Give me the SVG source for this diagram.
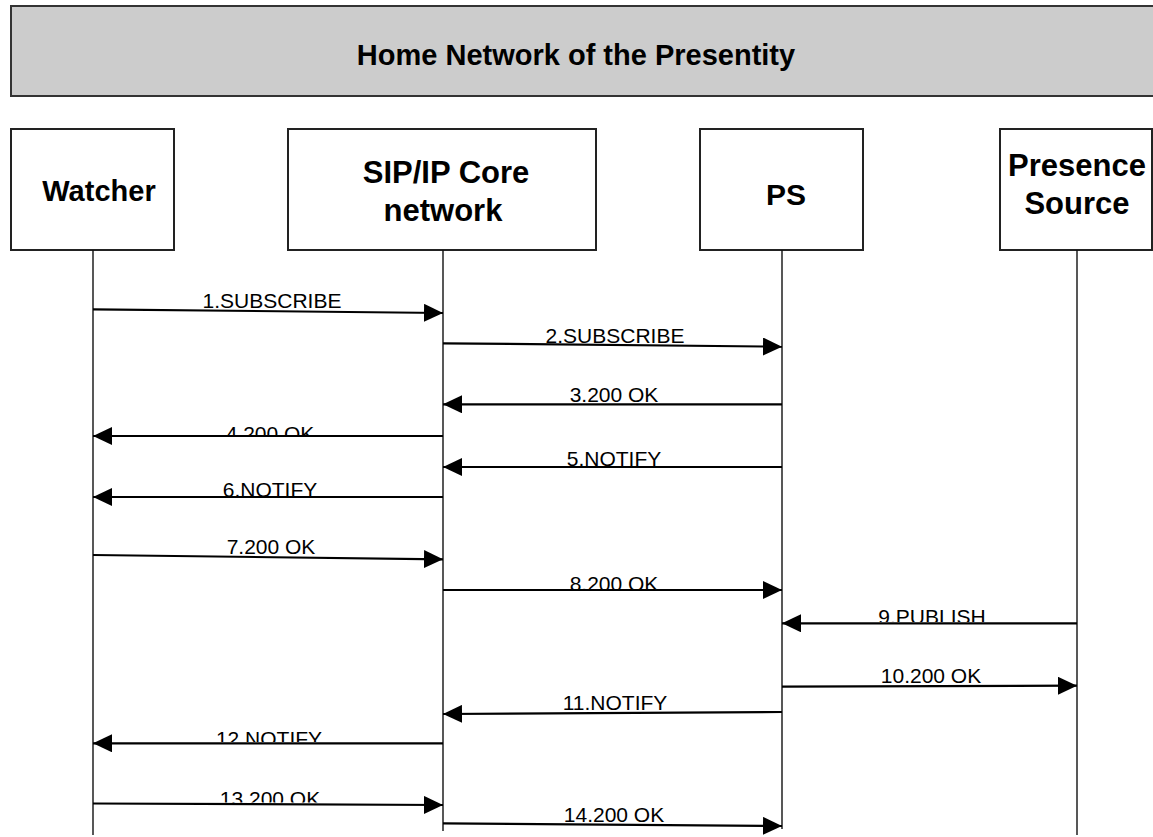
<svg xmlns="http://www.w3.org/2000/svg" width="1153" height="837" viewBox="0 0 1153 837">
<style>
.box{fill:#ffffff;stroke:#222222;stroke-width:2}
.banner{fill:#cccccc;stroke:#333333;stroke-width:2}
.title{font-family:"Liberation Sans",Arial,sans-serif;font-weight:bold;fill:#000000;text-anchor:middle}
.life{stroke:#111111;stroke-width:1.4;fill:none}
.msg{stroke:#000000;stroke-width:2.2;fill:none;marker-end:url(#arrow)}
.lbl{font-family:"Liberation Sans",Arial,sans-serif;font-size:21px;fill:#000000;text-anchor:middle}
</style>
<defs>
<marker id="arrow" markerUnits="userSpaceOnUse" markerWidth="20" markerHeight="18" refX="19" refY="9" orient="auto">
<path d="M0,0 L19,9 L0,18 Z" fill="#000000"/>
</marker>
<clipPath id="c4"><rect x="0" y="0" width="1153" height="435"/></clipPath>
<clipPath id="c6"><rect x="0" y="0" width="1153" height="496"/></clipPath>
<clipPath id="c8"><rect x="0" y="0" width="1153" height="589"/></clipPath>
<clipPath id="c9"><rect x="0" y="0" width="1153" height="622"/></clipPath>
<clipPath id="c12"><rect x="0" y="0" width="1153" height="742"/></clipPath>
<clipPath id="c13"><rect x="0" y="0" width="1153" height="802.5"/></clipPath>
</defs>
<rect width="1153" height="837" fill="#ffffff"/>

<g id="banner">
<rect class="banner" x="11" y="6" width="1160" height="90"/>
<text class="title" x="576" y="65" font-size="29">Home Network of the Presentity</text>
</g>

<g id="watcher">
<rect class="box" x="11" y="129" width="163" height="121"/>
<text class="title" x="99" y="201" font-size="29">Watcher</text>
</g>
<g id="sipcore">
<rect class="box" x="288" y="129" width="308" height="121"/>
<text class="title" x="446" y="183" font-size="31">SIP/IP Core</text>
<text class="title" x="443" y="221" font-size="31">network</text>
</g>
<g id="ps">
<rect class="box" x="700" y="129" width="163" height="121"/>
<text class="title" x="786" y="205" font-size="30">PS</text>
</g>
<g id="presencesource">
<rect class="box" x="1000" y="129" width="152" height="121"/>
<text class="title" x="1077" y="176" font-size="31">Presence</text>
<text class="title" x="1077" y="214" font-size="31">Source</text>
</g>

<g id="lifelines">
<line class="life" x1="93" y1="250" x2="93" y2="835"/>
<line class="life" x1="443" y1="250" x2="443" y2="831"/>
<line class="life" x1="782" y1="250" x2="782" y2="829"/>
<line class="life" x1="1077" y1="250" x2="1077" y2="835"/>
</g>

<g id="connectors">
<line class="msg" x1="93" y1="309.3" x2="443" y2="313"/>
<line class="msg" x1="443" y1="343.3" x2="782" y2="346.7"/>
<line class="msg" x1="782" y1="404.3" x2="443" y2="404.3"/>
<line class="msg" x1="443" y1="436" x2="93" y2="436"/>
<line class="msg" x1="782" y1="467" x2="443" y2="467"/>
<line class="msg" x1="443" y1="497" x2="93" y2="497"/>
<line class="msg" x1="93" y1="555" x2="443" y2="559.3"/>
<line class="msg" x1="443" y1="590" x2="782" y2="590"/>
<line class="msg" x1="1077" y1="623.3" x2="782" y2="623.3"/>
<line class="msg" x1="782" y1="686.7" x2="1077" y2="685.7"/>
<line class="msg" x1="782" y1="712" x2="443" y2="714"/>
<line class="msg" x1="443" y1="743.3" x2="93" y2="743.3"/>
<line class="msg" x1="93" y1="803.5" x2="443" y2="805"/>
<line class="msg" x1="443" y1="823.3" x2="782" y2="826"/>
</g>

<g id="labels">
<text class="lbl" x="272" y="308">1.SUBSCRIBE</text>
<text class="lbl" x="615" y="343">2.SUBSCRIBE</text>
<text class="lbl" x="614" y="401.5">3.200 OK</text>
<text class="lbl" x="270" y="440.5" clip-path="url(#c4)">4.200 OK</text>
<text class="lbl" x="614" y="465.5">5.NOTIFY</text>
<text class="lbl" x="270" y="497" clip-path="url(#c6)">6.NOTIFY</text>
<text class="lbl" x="271" y="554">7.200 OK</text>
<text class="lbl" x="614" y="590.5" clip-path="url(#c8)">8.200 OK</text>
<text class="lbl" x="932" y="623.5" clip-path="url(#c9)">9.PUBLISH</text>
<text class="lbl" x="931" y="682.5">10.200 OK</text>
<text class="lbl" x="615" y="710">11.NOTIFY</text>
<text class="lbl" x="269" y="746" clip-path="url(#c12)">12.NOTIFY</text>
<text class="lbl" x="270" y="806" clip-path="url(#c13)">13.200 OK</text>
<text class="lbl" x="614" y="821.5">14.200 OK</text>
</g>
</svg>
